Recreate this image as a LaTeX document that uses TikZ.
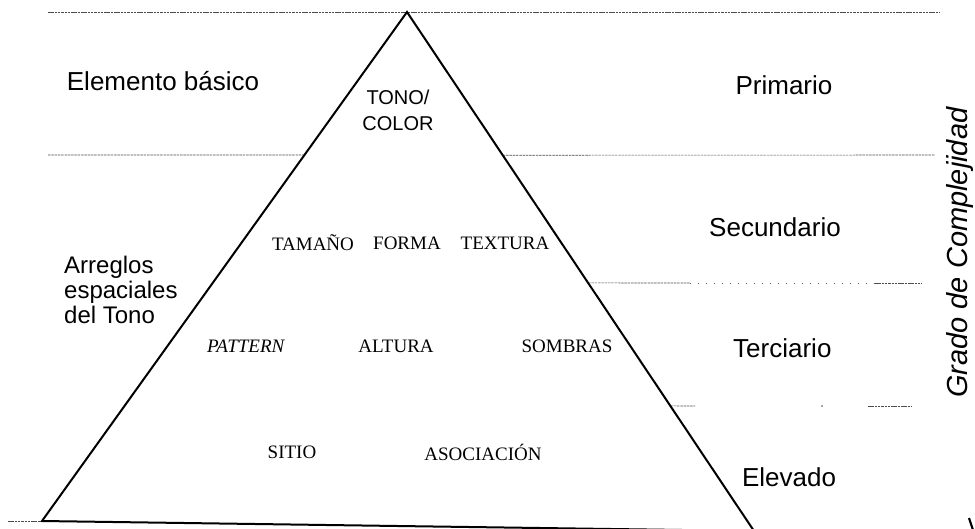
\documentclass[tikz,border=0pt]{standalone}
\usepackage{fontspec}
\usetikzlibrary{calc}
\setmainfont{Liberation Serif}
\newfontfamily\arialf{Liberation Sans}
\begin{document}
\begin{tikzpicture}[x=1pt,y=-1pt,
  lbl/.style={font=\arialf\fontsize{26}{26}\selectfont, inner sep=0pt},
  inner/.style={font=\fontsize{19}{19}\selectfont, inner sep=0pt},
  sep/.style={draw=black!70, line width=0.6pt, dash pattern=on 2.5pt off 0.8pt},
  sparse/.style={draw=black!60, line width=0.6pt, dash pattern=on 1pt off 7pt},
  edge/.style={draw=black, line width=2pt, line cap=round, line join=miter}]
\useasboundingbox (0,0) rectangle (975,528);
\clip (0,0) rectangle (975,528);
% triangle corners
\coordinate (apex) at (407,12);
\coordinate (bl) at (42,521);
\coordinate (br) at (754,531);
% separator lines
\coordinate (t1) at (48,12);
\coordinate (t2) at (940,12);
\draw[sep] (t1) -- (t2);
\coordinate (s1a) at (48,155);
\coordinate (s1b) at ($(apex)!0.281!(bl)$);
\coordinate (s1c) at ($(apex)!0.276!(br)$);
\coordinate (s1d) at (935,155);
\draw[sep] (s1a) -- (s1b);
\draw[sep] (s1c) -- (s1d);
\coordinate (s2c) at ($(apex)!0.522!(br)$);
\coordinate (s2x) at (690,283);
\coordinate (s2y) at (875,283);
\coordinate (s2d) at (922,283);
\draw[sep] (s2c) -- (s2x);
\draw[sparse] (s2x) -- (s2y);
\draw[sep] (s2y) -- (s2d);
\coordinate (s3c) at ($(apex)!0.759!(br)$);
\coordinate (s3e) at (695,406);
\coordinate (s3f) at (868,406);
\coordinate (s3g) at (912,406);
\coordinate (s3p) at (822,406);
\draw[sep] (s3c) -- (s3e);
\draw[sep] (s3f) -- (s3g);
\fill[black!70] (s3p) circle (0.8pt);
\coordinate (b0) at (8,521);
\draw[sep] (b0) -- (bl);
% triangle
\draw[edge] (apex) -- (bl) -- (br) -- cycle;
% stray mark at right bottom
\coordinate (m1) at (969,518);
\coordinate (m2) at (973,530);
\draw[line width=2.2pt] (m1) -- (m2);
% left labels
\node[lbl] (elem) at (163,81) {Elemento básico};
\node[lbl, align=left, anchor=west, font=\arialf\fontsize{24}{25}\selectfont] (arr) at (64,290) {Arreglos\\espaciales\\del Tono};
% right labels
\node[lbl] (prim) at (784,85) {Primario};
\node[lbl] (secu) at (775,227) {Secundario};
\node[lbl, anchor=west] (terc) at (733,348) {Terciario};
\node[lbl] (elev) at (789,477) {Elevado};
\node[lbl, rotate=90, anchor=base west, font=\arialf\itshape\fontsize{29}{29}\selectfont] (grado) at (967,398) {Grado de Complejidad};
% inside
\node[align=center, inner sep=0pt, font=\arialf\fontsize{20}{26}\selectfont] (tono) at (398,110) {TONO/\\COLOR};
\node[inner] (tam) at (313,243) {TAMAÑO};
\node[inner] (for) at (407,243) {FORMA};
\node[inner] (tex) at (505,243) {TEXTURA};
\node[inner, anchor=west, font=\itshape\fontsize{19}{19}\selectfont] (pat) at (207,346) {PATTERN};
\node[inner] (alt) at (396,346) {ALTURA};
\node[inner] (som) at (567,346) {SOMBRAS};
\node[inner] (sit) at (292,452) {SITIO};
\node[inner] (aso) at (483,452) {ASOCIACIÓN};
\end{tikzpicture}
\end{document}
